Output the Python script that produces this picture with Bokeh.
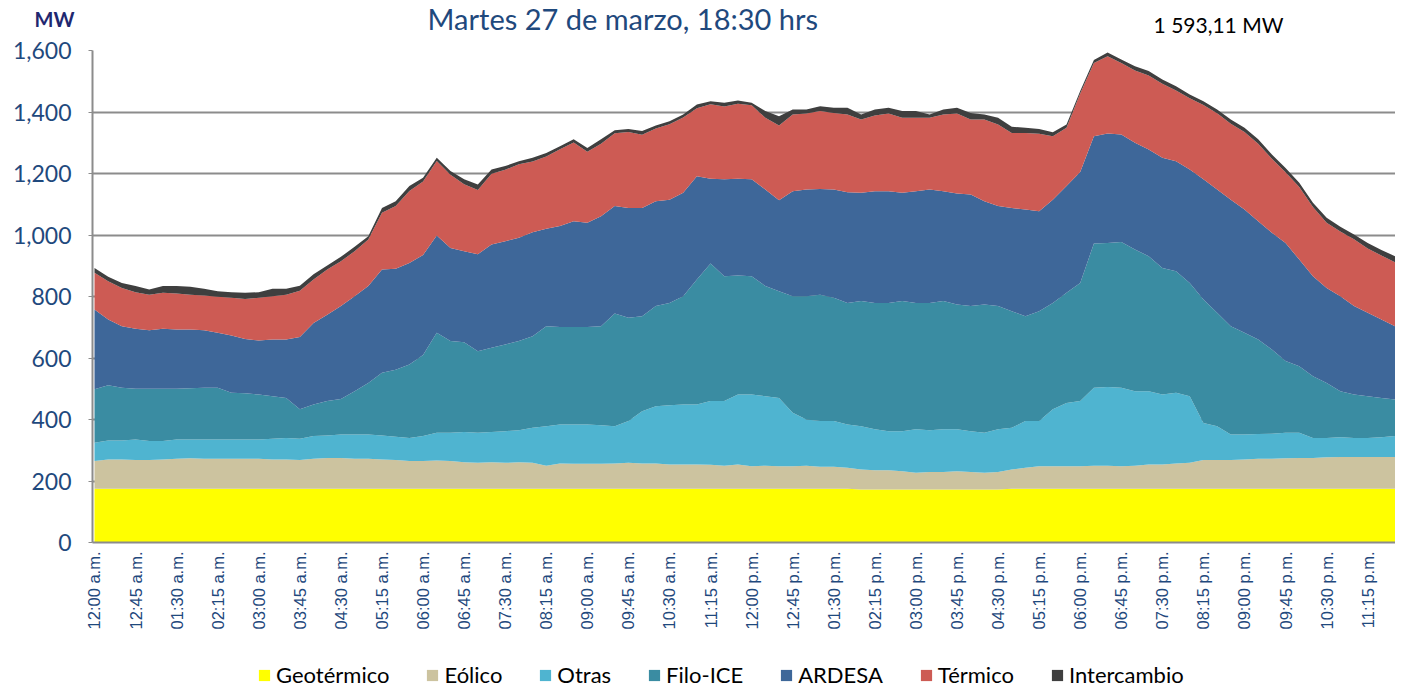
import math
from bokeh.plotting import figure
from bokeh.layouts import column
from bokeh.models import (ColumnDataSource, Range1d, FixedTicker, NumeralTickFormatter,
                          Label, Legend, LegendItem)
from bokeh.embed import file_html
from bokeh.resources import INLINE

# ---------------- data (MW, every 15 minutes, 96 points) ----------------
tick_labels = ["12:00 a.m.", "12:45 a.m.", "01:30 a.m.", "02:15 a.m.", "03:00 a.m.", "03:45 a.m.",
               "04:30 a.m.", "05:15 a.m.", "06:00 a.m.", "06:45 a.m.", "07:30 a.m.", "08:15 a.m.",
               "09:00 a.m.", "09:45 a.m.", "10:30 a.m.", "11:15 a.m.", "12:00 p.m.", "12:45 p.m.",
               "01:30 p.m.", "02:15 p.m.", "03:00 p.m.", "03:45 p.m.", "04:30 p.m.", "05:15 p.m.",
               "06:00 p.m.", "06:45 p.m.", "07:30 p.m.", "08:15 p.m.", "09:00 p.m.", "09:45 p.m.",
               "10:30 p.m.", "11:15 p.m."]

geotermico = [175, 175, 175, 175, 175, 175, 175, 175, 175, 175, 175, 175, 175, 175, 175, 175, 175, 175, 175, 175, 175, 175, 175, 175,
              175, 175, 175, 175, 175, 175, 175, 175, 175, 175, 175, 175, 175, 175, 175, 175, 175, 175, 175, 175, 175, 175, 175, 175,
              175, 175, 175, 175, 175, 175, 175, 175, 172, 172, 172, 172, 172, 172, 172, 172, 172, 172, 172, 175, 175, 175, 175, 175,
              175, 175, 175, 175, 175, 175, 175, 175, 175, 175, 175, 175, 175, 175, 175, 175, 175, 175, 175, 175, 175, 175, 175, 175]

eolico = [90, 95, 95, 93, 93, 95, 97, 99, 97, 97, 97, 97, 97, 95, 95, 93, 97, 100, 100, 97, 97, 95, 93, 90,
          90, 92, 90, 86, 84, 86, 84, 86, 84, 75, 82, 81, 81, 81, 82, 84, 82, 82, 79, 79, 79, 78, 75, 79,
          73, 75, 73, 73, 75, 71, 71, 68, 65, 63, 63, 60, 55, 57, 57, 60, 57, 55, 57, 62, 68, 73, 73, 73,
          73, 75, 75, 73, 75, 79, 79, 82, 84, 93, 93, 93, 95, 97, 97, 99, 100, 100, 102, 103, 103, 103, 103, 103]

otras = [59, 62, 62, 67, 62, 60, 63, 61, 63, 63, 63, 63, 63, 67, 70, 69, 74, 73, 76, 79, 79, 78, 76, 75,
         81, 90, 92, 98, 98, 98, 103, 104, 114, 128, 127, 128, 128, 125, 121, 136, 170, 186, 192, 195, 195, 207, 210, 227,
         233, 226, 222, 174, 150, 149, 149, 141, 141, 133, 127, 130, 141, 136, 139, 136, 133, 130, 139, 136, 152, 147, 185, 206,
         212, 253, 256, 255, 242, 238, 227, 230, 217, 121, 110, 83, 81, 81, 82, 83, 82, 65, 63, 64, 62, 62, 64, 68]

filo_ice = [174, 179, 171, 165, 170, 170, 165, 167, 168, 168, 152, 150, 146, 139, 130, 96, 103, 112, 116, 141, 168, 204, 218, 239,
            264, 325, 298, 292, 265, 274, 282, 290, 298, 325, 317, 317, 317, 322, 367, 336, 309, 326, 333, 352, 406, 447, 406, 387,
            385, 358, 347, 379, 401, 411, 401, 395, 407, 411, 417, 423, 411, 414, 417, 406, 407, 417, 401, 379, 341, 357, 346, 358,
            384, 469, 468, 474, 461, 439, 412, 395, 368, 401, 369, 352, 331, 307, 274, 233, 216, 201, 179, 150, 141, 136, 128, 119]

ardesa = [260, 214, 200, 195, 190, 195, 193, 191, 187, 179, 186, 177, 176, 184, 190, 235, 265, 281, 302, 309, 315, 336, 328, 330,
          325, 316, 303, 296, 315, 336, 336, 336, 338, 317, 328, 344, 339, 358, 349, 357, 352, 341, 336, 336, 336, 276, 315, 315,
          315, 314, 296, 341, 347, 344, 352, 360, 352, 363, 363, 352, 363, 369, 357, 361, 363, 336, 325, 336, 347, 325, 336, 347,
          361, 349, 356, 350, 347, 347, 358, 358, 369, 391, 401, 412, 401, 385, 379, 384, 347, 325, 309, 309, 288, 271, 255, 238]

termico = [119, 125, 125, 119, 116, 117, 117, 113, 113, 117, 123, 130, 139, 141, 146, 151, 141, 147, 146, 146, 151, 184, 204, 234,
           239, 243, 238, 218, 209, 230, 232, 239, 230, 235, 250, 256, 231, 236, 237, 247, 238, 236, 245, 245, 221, 242, 237, 244,
           241, 233, 243, 250, 247, 253, 249, 253, 239, 247, 253, 244, 239, 233, 250, 260, 244, 266, 265, 244, 249, 252, 206, 190,
           255, 238, 251, 232, 235, 241, 241, 230, 232, 242, 248, 247, 252, 252, 241, 230, 236, 225, 212, 210, 217, 209, 208, 208]

intercambio = [16, 14, 16, 20, 17, 22, 24, 26, 22, 18, 18, 20, 18, 24, 19, 16, 17, 13, 14, 15, 11, 16, 16, 16,
               12, 10, 12, 16, 18, 14, 12, 10, 12, 12, 10, 10, 12, 14, 10, 10, 12, 10, 10, 10, 12, 10, 12, 10,
               8, 22, 30, 16, 13, 16, 17, 22, 16, 19, 19, 22, 22, 11, 16, 19, 21, 16, 22, 20, 17, 16, 13, 10,
               8, 10, 12.11, 12, 14, 14, 14, 14, 12, 12, 12, 14, 14, 14, 14, 14, 14, 14, 16, 16, 16, 18, 18, 20]

series_names = ["Geotérmico", "Eólico", "Otras", "Filo-ICE", "ARDESA", "Térmico", "Intercambio"]
series_colors = ["#FFFF00", "#CCC39F", "#4FB4D0", "#3A8CA2", "#3E6799", "#CD5B54", "#3F3F3F"]

title_text = "Martes 27 de marzo,  18:30 hrs"
unit_text = "MW"
peak_text = "1 593,11 MW"

W = 1395
H_HEAD = 36
H_MAIN = 620
H_LEG = 690 - H_HEAD - H_MAIN
TOP = 14

keys = ["geo", "eol", "otr", "filo", "ard", "term", "inter"]
src = ColumnDataSource(data=dict(
    x=list(range(len(geotermico))),
    geo=geotermico, eol=eolico, otr=otras, filo=filo_ice, ard=ardesa, term=termico, inter=intercambio))

# ---------------- header (title, unit, peak note) ----------------
# frames of the stacked plots are aligned, so the header frame spans the same columns
head = figure(width=W, height=H_HEAD, output_backend="svg", toolbar_location=None, title=None,
              x_range=Range1d(92, 1395), y_range=Range1d(0, H_HEAD),
              x_axis_type=None,
              min_border_left=0, min_border_right=0, min_border_top=0, min_border_bottom=0)
head.outline_line_color = None
head.xgrid.visible = False
head.ygrid.visible = False
hy = head.yaxis[0]
hy.ticker = FixedTicker(ticks=[])
hy.axis_line_color = None
hy.major_tick_line_color = None
hy.minor_tick_line_color = None
hy.axis_label = unit_text
hy.axis_label_orientation = "horizontal"
hy.axis_label_text_font = "Lato"
hy.axis_label_text_font_size = "20px"
hy.axis_label_text_font_style = "bold"
hy.axis_label_text_color = "#1F2870"
hy.axis_label_standoff = 18

head.add_layout(Label(x=626, y=18, text=title_text, text_font="Lato", text_font_size="29px",
                      text_color="#1F497D", text_align="center", text_baseline="middle"))
head.add_layout(Label(x=1218, y=12.5, text=peak_text, text_font="Lato", text_font_size="21px",
                      text_color="black", text_align="center", text_baseline="middle"))

# ---------------- main stacked area chart ----------------
p = figure(width=W, height=H_MAIN, output_backend="svg", toolbar_location=None, title=None,
           x_range=Range1d(-0.146, 95.03), y_range=Range1d(0, 1600),
           min_border_left=92, min_border_right=0, min_border_top=TOP,
           min_border_bottom=H_MAIN - TOP - 492)
p.outline_line_color = None

p.varea_stack(stackers=keys, x="x", color=series_colors, source=src)

yt = FixedTicker(ticks=[0, 200, 400, 600, 800, 1000, 1200, 1400, 1600])
p.yaxis.ticker = yt
p.yaxis.formatter = NumeralTickFormatter(format="0,0")
p.yaxis.major_label_text_font = "Lato"
p.yaxis.major_label_text_font_size = "23px"
p.yaxis.major_label_text_color = "#1F497D"
p.yaxis.axis_line_color = "#8C8C8C"
p.yaxis.axis_line_width = 2
p.yaxis.major_tick_in = 0
p.yaxis.major_tick_out = 4
p.yaxis.major_tick_line_color = "#8C8C8C"
p.yaxis.minor_tick_line_color = None
p.yaxis.major_label_standoff = 17

p.xaxis.ticker = FixedTicker(ticks=list(range(0, 96, 3)))
p.xaxis.major_label_overrides = {i * 3: lab for i, lab in enumerate(tick_labels)}
p.xaxis.major_label_orientation = math.pi / 2
p.xaxis.major_label_text_font = "Liberation Sans"
p.xaxis.major_label_text_font_size = "16.5px"
p.xaxis.major_label_text_color = "#1F497D"
p.xaxis.axis_line_color = "#8C8C8C"
p.xaxis.axis_line_width = 2
p.xaxis.major_tick_in = 0
p.xaxis.major_tick_out = 0
p.xaxis.minor_tick_line_color = None
p.xaxis.major_label_standoff = 9

p.xgrid.grid_line_color = None
p.ygrid.ticker = yt
p.ygrid.grid_line_color = "#8C8C8C"
p.ygrid.grid_line_width = 2

# ---------------- legend strip (same series, plotted out of view) ----------------
leg = figure(width=W, height=H_LEG, output_backend="svg", toolbar_location=None, title=None,
             x_range=Range1d(0, 95), y_range=Range1d(-200, -100),
             x_axis_type=None, y_axis_type=None,
             min_border_left=0, min_border_right=0, min_border_top=0, min_border_bottom=0)
leg.outline_line_color = None
leg.xgrid.visible = False
leg.ygrid.visible = False
leg_renderers = leg.varea_stack(stackers=keys, x="x", color=series_colors, source=src)
items = [LegendItem(label=n, renderers=[r]) for n, r in zip(series_names, leg_renderers)]
legend = Legend(items=items, orientation="horizontal", location=(165, 2),
                glyph_width=14, glyph_height=14, label_standoff=5, spacing=36,
                label_text_font="Lato", label_text_font_size="22px", label_text_color="black",
                padding=0, margin=0, border_line_color=None, background_fill_alpha=0)
leg.add_layout(legend)

layout = column(head, p, leg, spacing=0)
open("out.html", "w").write(file_html(layout, INLINE))
